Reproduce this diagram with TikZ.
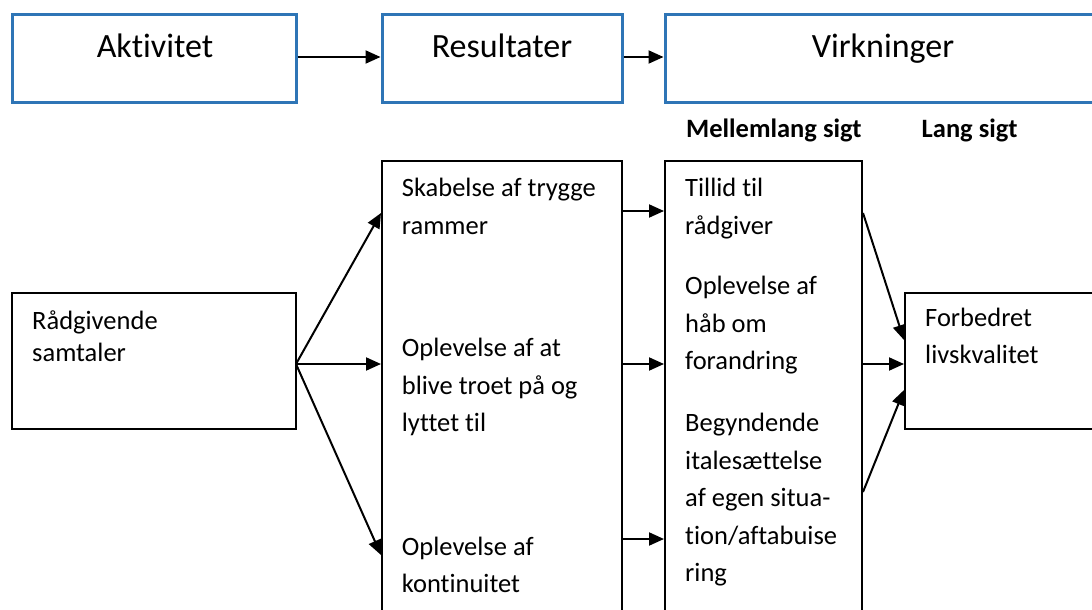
\documentclass[tikz,border=0pt]{standalone}
\usepackage{fontspec}
\setmainfont{Carlito}[Ligatures=NoCommon]
\usetikzlibrary{arrows.meta}
\definecolor{boxblue}{RGB}{46,117,182}
\begin{document}
\begin{tikzpicture}[x=1pt,y=-1pt,
  bluebox/.style={draw=boxblue,line width=3pt,inner sep=0pt},
  blackbox/.style={draw=black,line width=2pt,inner sep=0pt},
  conn/.style={line width=2pt,-{Triangle[length=15pt,width=13pt]}},
  head/.style={inner sep=0pt,anchor=base,font=\fontsize{34}{40}\selectfont},
  sub/.style={inner sep=0pt,anchor=base west,font=\fontsize{26.5}{30}\bfseries\selectfont},
  txt/.style={inner sep=0pt,anchor=base west,font=\fontsize{26.5}{37.5}\selectfont}]
\useasboundingbox (0,0) rectangle (1092,610);
\clip (0,0) rectangle (1092,610);
% top row
\node[bluebox,minimum width=284pt,minimum height=87pt] (akt) at (154,58.5) {};
\node[bluebox,minimum width=240pt,minimum height=87pt] (res) at (502,58.5) {};
\node[bluebox,minimum width=440pt,minimum height=87pt] (virk) at (885,58.5) {};
\node[head] (aktT) at (155,57.5) {Aktivitet};
\node[head] (resT) at (502,57.5) {Resultater};
\node[head] (virkT) at (883,57.5) {Virkninger};
\draw[conn] (akt.east |- 0,57) -- (res.west |- 0,57);
\draw[conn] (res.east |- 0,57) -- (virk.west |- 0,57);
% sub headings
\node[sub] (mls) at (686,137.7) {Mellemlang sigt};
\node[sub] (ls) at (921.5,137.7) {Lang sigt};
% lower boxes
\node[blackbox,minimum width=284pt,minimum height=136pt] (rad) at (154,361) {};
\node[blackbox,minimum width=240pt,minimum height=470pt] (rescol) at (502,396) {};
\node[blackbox,minimum width=197pt,minimum height=470pt] (virkcol) at (763.5,396) {};
\node[blackbox,minimum width=200pt,minimum height=136pt] (forb) at (1005,361) {};
% texts
\node[txt] (radT) at (32,329) {\parbox[t]{250pt}{\fontsize{26.5}{32}\selectfont R\r{a}dgivende\\samtaler}};
\node[txt] (r1) at (401.7,196.7) {\parbox[t]{220pt}{Skabelse af trygge\\rammer}};
\node[txt] (r2) at (401.7,356.7) {\parbox[t]{220pt}{Oplevelse af at\\blive troet p\r{a} og\\lyttet til}};
\node[txt] (r3) at (401.7,555) {\parbox[t]{220pt}{Oplevelse af\\kontinuitet}};
\node[txt] (v1) at (685,196.7) {\parbox[t]{180pt}{Tillid til\\r\r{a}dgiver}};
\node[txt] (v2) at (685,294.7) {\parbox[t]{180pt}{Oplevelse af\\h\r{a}b om\\forandring}};
\node[txt] (v3) at (685,431.7) {\parbox[t]{180pt}{Begyndende\\itales\ae ttelse\\af egen situa-\\tion/aftabuise\\ring}};
\node[txt] (fT) at (925,326) {\parbox[t]{180pt}{Forbedret\\livskvalitet}};
% connectors
\coordinate (rs) at (296,364);
\draw[conn] (rs) -- (rescol.west |- 0,213);
\draw[conn] (rs) -- (rescol.west |- 0,364);
\draw[conn] (rs) -- (rescol.west |- 0,555);
\draw[conn] (rescol.east |- 0,211) -- (virkcol.west |- 0,211);
\draw[conn] (rescol.east |- 0,364) -- (virkcol.west |- 0,364);
\draw[conn] (rescol.east |- 0,539) -- (virkcol.west |- 0,539);
\draw[conn] (virkcol.east |- 0,213) -- (forb.west |- 0,340);
\draw[conn] (virkcol.east |- 0,364) -- (forb.west |- 0,364);
\draw[conn] (virkcol.east |- 0,492) -- (forb.west |- 0,390);
\end{tikzpicture}
\end{document}
